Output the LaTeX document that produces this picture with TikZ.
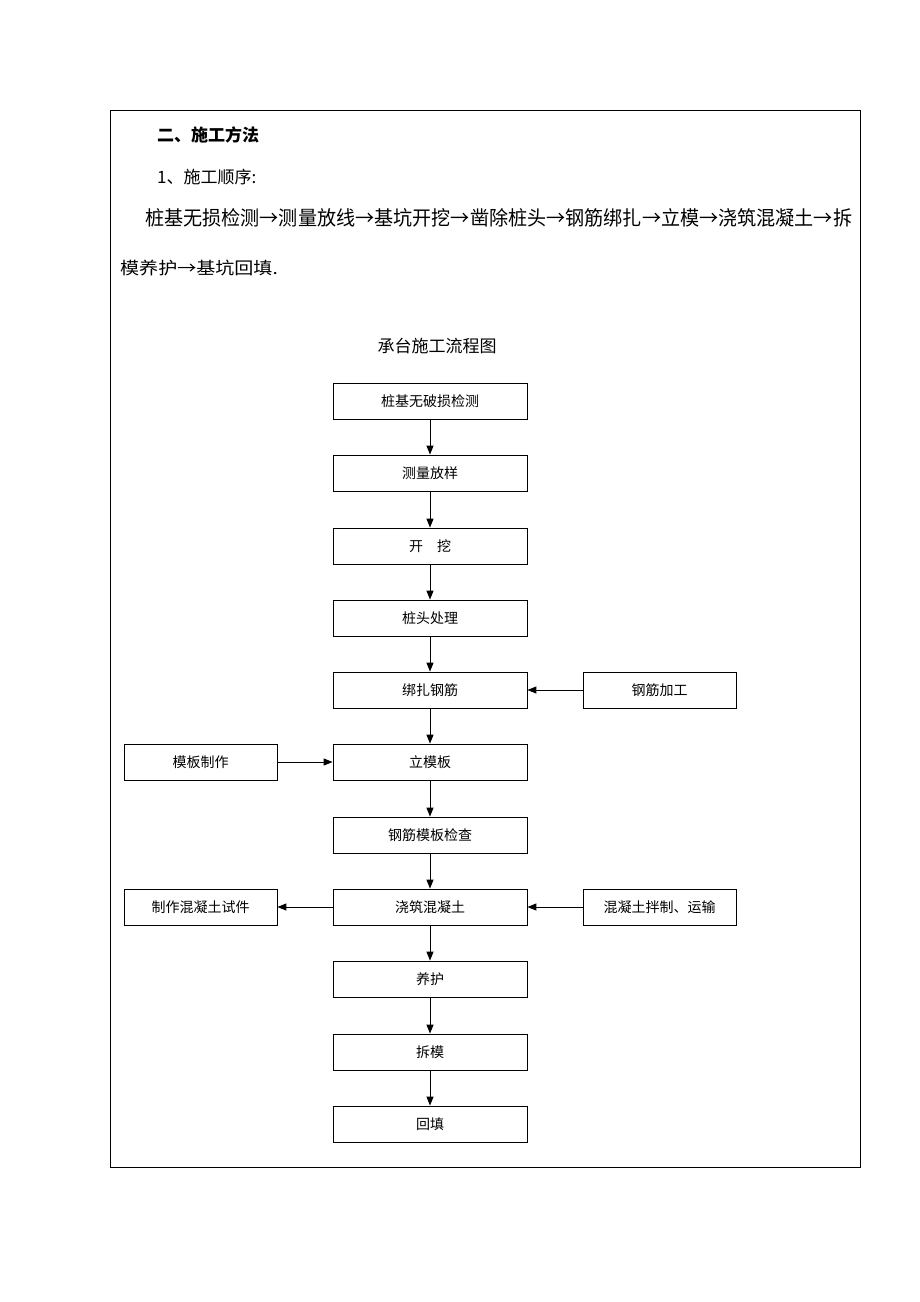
\documentclass[tikz,border=0pt]{standalone}
\usepackage{fontspec}
\usepackage{graphicx}
\setmainfont{Noto Sans CJK SC}
\usetikzlibrary{arrows.meta}
\begin{document}
\begin{tikzpicture}[x=1pt,y=-1pt,
 box/.style={draw,line width=0.8pt,minimum height=36pt,font=\fontsize{14}{16}\selectfont,inner sep=0pt},
 mb/.style={box,minimum width=194pt},
 sb/.style={box,minimum width=153pt},
 arr/.style={-{Triangle[length=9pt,width=7pt]},line width=1pt},
 txt/.style={font=\fontsize{17}{19}\selectfont,anchor=west,inner sep=0pt}]
\useasboundingbox (0,0) rectangle (920,1302);
\draw[line width=0.8pt] (110,110) rectangle (860,1167);
\node[txt,font=\fontsize{17}{19}\selectfont\bfseries] (h) at (157,135) {二、施工方法};
\node[txt] (s) at (157,177) {1、施工顺序:};
\node[txt] (l1) at (145,218) {\resizebox{707pt}{17pt}{桩基无损检测→测量放线→基坑开挖→凿除桩头→钢筋绑扎→立模→浇筑混凝土→拆}};
\node[txt] (l2) at (120,268) {\scalebox{1.12}[1]{模养护→基坑回填.}};
\node[font=\fontsize{17}{19}\selectfont] (t) at (437,346) {承台施工流程图};
\foreach \n/\y/\s in {a/401/桩基无破损检测,b/473/测量放样,c/546/开\quad 挖,d/618/桩头处理,e/690/绑扎钢筋,f/762/立模板,g/835/钢筋模板检查,h2/907/浇筑混凝土,i/979/养护,j/1052/拆模,k/1124/回填}
  \node[mb] (\n) at (430,\y) {\s};
\node[sb] (r1) at (659.5,690) {钢筋加工};
\node[sb] (r2) at (659.5,907) {混凝土拌制、运输};
\node[sb] (l3) at (200.5,762) {模板制作};
\node[sb] (l4) at (200.5,907) {制作混凝土试件};
\foreach \p/\q in {a/b,b/c,c/d,d/e,e/f,f/g,g/h2,h2/i,i/j,j/k}
  \draw[arr] (\p) -- (\q);
\draw[arr] (r1) -- (e);
\draw[arr] (r2) -- (h2);
\draw[arr] (l3) -- (f);
\draw[arr] (h2) -- (l4);
\end{tikzpicture}
\end{document}
